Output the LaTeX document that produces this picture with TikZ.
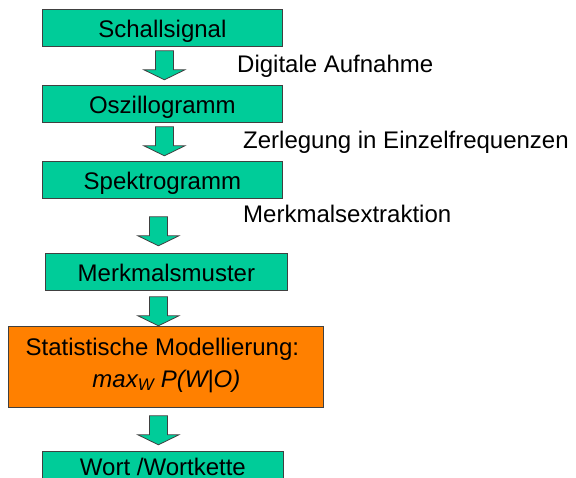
\documentclass[tikz,border=0pt]{standalone}
\usepackage{fontspec}
\setmainfont{Liberation Sans}
\usetikzlibrary{calc}
\definecolor{boxgreen}{HTML}{00CC99}
\definecolor{boxorange}{HTML}{FF8000}
\definecolor{edgegray}{HTML}{404040}
\begin{document}
\begin{tikzpicture}[x=1pt,y=-1pt,
  every node/.style={font=\fontsize{24}{29}\selectfont},
  stepbox/.style={draw=edgegray, line width=0.8pt, fill=boxgreen, minimum width=240pt,
    minimum height=37pt, inner sep=0pt, anchor=north west, text height=20pt, text depth=0pt},
  modelbox/.style={draw=edgegray, line width=0.8pt, fill=boxorange, minimum width=315pt,
    minimum height=81pt, inner sep=0pt, anchor=north west},
  steplabel/.style={anchor=base west, inner sep=0pt},
  modeltext/.style={anchor=base, inner sep=0pt},
  blockarrow/.pic={\draw[draw=edgegray, line width=0.8pt, fill=boxgreen, line join=miter]
    (-9,0) -- (9,0) -- (9,19) -- (20.5,19) -- (0,29) -- (-20.5,19) -- (-9,19) -- cycle;}
]
\useasboundingbox (0,0) rectangle (576,477);
\clip (0,0) rectangle (576,477);

\node[stepbox] (s1) at (42,9) {Schallsignal};
\node[stepbox] (s2) at (42,85) {Oszillogramm};
\node[stepbox] (s3) at (42,161) {Spektrogramm};
\node[stepbox, minimum width=242pt] (s4) at (45,253) {Merkmalsmuster};
\node[modelbox] (model) at (8,326) {};
\node[modeltext] (m1) at ($(model.north)+(-3.5,29.5)$) {Statistische Modellierung:};
\node[modeltext] (m2) at ($(model.north)+(0.5,61)$) {\itshape max\textsubscript{W} P(W|O)};
\node[stepbox, minimum width=241pt, text depth=9pt] (s6) at (42,451) {Wort /Wortkette};

\pic at ($(s1.south)+(2,4)$) {blockarrow};
\pic at ($(s2.south)+(2,4)$) {blockarrow};
\pic at ($(s3.south)+(-4,18)$) {blockarrow};
\pic at ($(s4.south)+(-8,6)$) {blockarrow};
\pic at ($(model.south)+(-7.5,8)$) {blockarrow};

\node[steplabel] (l1) at (237,72) {Digitale Aufnahme};
\node[steplabel] (l2) at (243,148) {Zerlegung in Einzelfrequenzen};
\node[steplabel] (l3) at (243,222) {Merkmalsextraktion};
\end{tikzpicture}
\end{document}
